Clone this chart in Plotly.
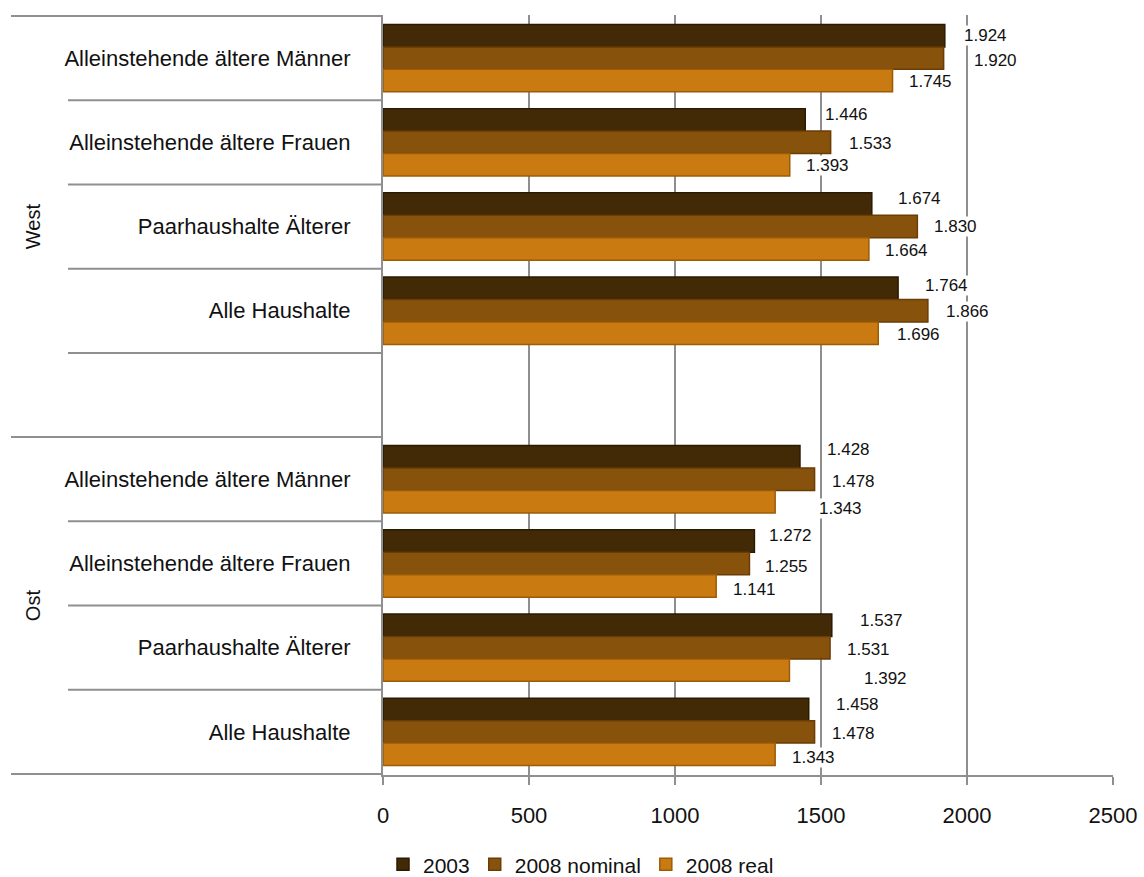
import plotly.graph_objects as go

# ---- data ----
groups = ["West", "Ost"]
categories = ["Alleinstehende ältere Männer", "Alleinstehende ältere Frauen",
              "Paarhaushalte Älterer", "Alle Haushalte"]
series_names = ["2003", "2008 nominal", "2008 real"]

west_2003 = [1924, 1446, 1674, 1764]
west_nominal = [1920, 1533, 1830, 1866]
west_real = [1745, 1393, 1664, 1696]

ost_2003 = [1428, 1272, 1537, 1458]
ost_nominal = [1478, 1255, 1531, 1478]
ost_real = [1343, 1141, 1392, 1343]

x_ticks = [0, 500, 1000, 1500, 2000, 2500]

# ---- styling ----
colors = ["#432A07", "#87520C", "#C97A11"]
line_colors = ["#2B1A03", "#6A3D06", "#9C5B08"]
grid = "#8F8F8F"
FONT = "Liberation Sans, Arial, sans-serif"

# label pixel shifts (right of bar end, downward) per series, per category (West 4, Ost 4)
label_dx = [[18, 19, 25, 26, 26, 14, 27, 26],
            [29, 17, 16, 17, 16, 15, 16, 16],
            [15, 15, 15, 18, 43, 16, 74, 16]]
label_dy = [[0, -5, -6, -3, -7, -5, -5, -5],
            [2, 1, 0, 1, 2, 3, 2, 2],
            [1, 1, 1, 1, 7, 4, 8, 3]]

# slots: West categories, blank, Ost categories
keys = [f"West|{c}" for c in categories] + ["West|"] + [f"Ost|{c}" for c in categories]
ticktext = categories + [""] + categories
series_vals = [
    west_2003 + [None] + ost_2003,
    west_nominal + [None] + ost_nominal,
    west_real + [None] + ost_real,
]

BARGAP = 0.2
bar_w = (1 - BARGAP) / 3

fig = go.Figure()
for k, name in enumerate(series_names):
    fig.add_trace(go.Bar(
        y=keys, x=series_vals[k], name=name, orientation="h",
        marker=dict(color=colors[k], line=dict(color=line_colors[k], width=1.5)),
        hoverinfo="x+name",
    ))

def fmt(v):
    return f"{v:,}".replace(",", ".")

annotations = []
data_slots = [i for i, v in enumerate(series_vals[0]) if v is not None]
for k in range(3):
    for j, slot in enumerate(data_slots):
        v = series_vals[k][slot]
        annotations.append(dict(
            x=v, y=slot + (k - 1) * bar_w, xref="x", yref="y",
            text=fmt(v), showarrow=False, xanchor="left", yanchor="middle",
            xshift=label_dx[k][j], yshift=-label_dy[k][j],
            bgcolor="white", borderpad=0,
            font=dict(family=FONT, size=17, color="#111111"),
        ))

# group labels (rotated)
n_west = len(categories) + 1
annotations.append(dict(x=-0.48, y=(n_west - 1) / 2, xref="paper", yref="y", text=groups[0],
                        textangle=-90, showarrow=False, xanchor="center", yanchor="middle",
                        font=dict(family=FONT, size=20, color="#111111")))
annotations.append(dict(x=-0.48, y=n_west + (len(categories) - 1) / 2, xref="paper", yref="y",
                        text=groups[1], textangle=-90, showarrow=False,
                        xanchor="center", yanchor="middle",
                        font=dict(family=FONT, size=20, color="#111111")))

# separator lines in the label area
shapes = []
n = len(keys)
L, R = 383, 31
plot_w = 1144 - L - R
for b in range(n + 1):
    is_group = b in (0, n_west, n)
    x0 = (11 - L) / plot_w if is_group else (68 - L) / plot_w
    shapes.append(dict(type="line", xref="paper", yref="y", x0=x0, x1=0,
                       y0=b - 0.5, y1=b - 0.5, line=dict(color=grid, width=2)))

fig.update_layout(
    width=1144, height=877, autosize=False,
    margin=dict(l=L, r=R, t=15, b=102, autoexpand=False),
    paper_bgcolor="white", plot_bgcolor="white",
    barmode="group", bargap=BARGAP, bargroupgap=0,
    font=dict(family=FONT, size=20, color="#111111"),
    xaxis=dict(range=[0, 2500], tickvals=x_ticks, ticktext=[str(t) for t in x_ticks],
               showgrid=True, gridcolor=grid, gridwidth=2, zeroline=False,
               showline=True, linecolor=grid, linewidth=2, automargin=False,
               ticks="outside", ticklen=8, tickcolor=grid, tickwidth=2,
               ticklabelstandoff=12, tickfont=dict(family=FONT, size=22)),
    yaxis=dict(categoryorder="array", categoryarray=keys, tickvals=keys, ticktext=ticktext,
               autorange="reversed", showgrid=False, zeroline=False, automargin=False,
               showline=True, linecolor=grid, linewidth=2, ticks="",
               ticklabelstandoff=26, tickfont=dict(family=FONT, size=22)),
    legend=dict(orientation="h", x=0.0, xanchor="left", y=-0.118, yanchor="middle",
                font=dict(family=FONT, size=21), traceorder="normal", itemwidth=30),
    annotations=annotations, shapes=shapes, showlegend=True,
)

fig.write_html("out.html", config={"displayModeBar": False},
               post_script="document.body.style.margin='0';document.body.style.padding='0';")
